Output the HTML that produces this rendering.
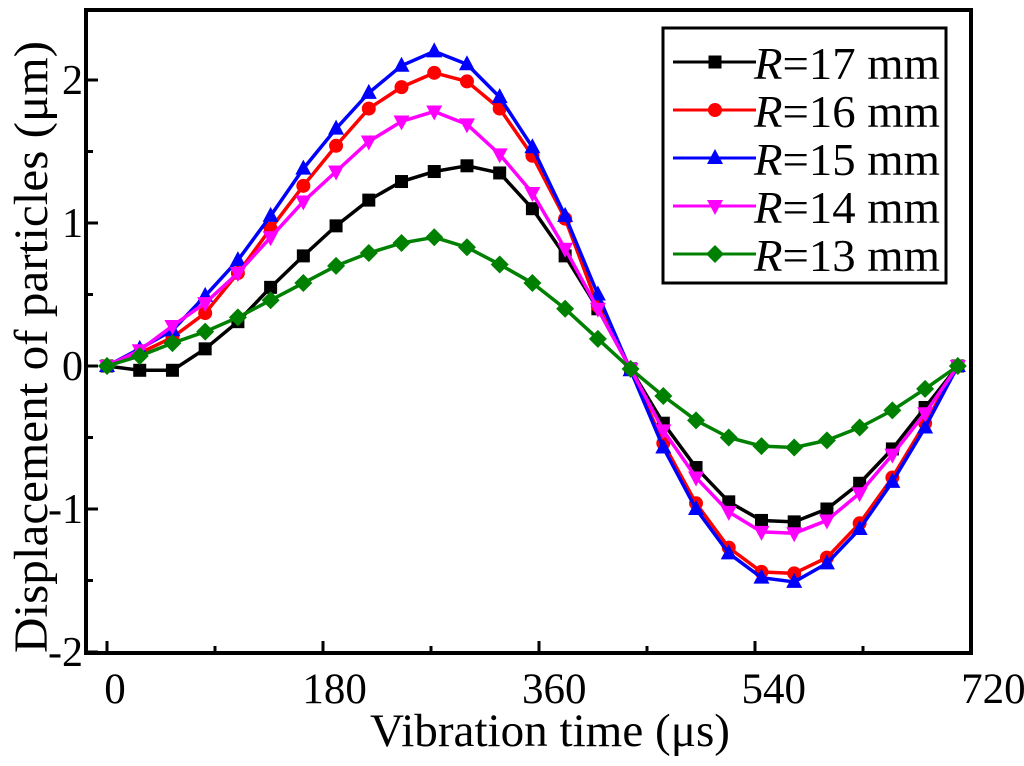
<!DOCTYPE html>
<html><head><meta charset="utf-8"><style>
html,body{margin:0;padding:0;background:#fff;}
svg text{font-family:"Liberation Serif",serif;fill:#000;}
</style></head><body>
<svg id="chart" width="1024" height="761" viewBox="0 0 1024 761" xmlns="http://www.w3.org/2000/svg">
<g id="axes"></g>
<g id="series"></g>
<g id="legend"></g>
<text x="550" y="746" font-size="47" text-anchor="middle" textLength="360" lengthAdjust="spacingAndGlyphs">Vibration time (μs)</text>
<text transform="translate(47,347) rotate(-90)" font-size="48" text-anchor="middle" textLength="612" lengthAdjust="spacingAndGlyphs">Displacement of particles (μm)</text>
</svg>
<script>
const step = 27.27;
const xTicks = [0,180,360,540,720];
const xMinor = [90,270,450,630];
const yTicks = [-2,-1,0,1,2];
const yMinor = [-1.5,-0.5,0.5,1.5];
const seriesNames = ["R=17 mm","R=16 mm","R=15 mm","R=14 mm","R=13 mm"];
const r17 = [0,-0.03,-0.03,0.12,0.31,0.55,0.77,0.98,1.16,1.29,1.36,1.40,1.35,1.10,0.77,0.40,-0.02,-0.40,-0.71,-0.95,-1.08,-1.09,-1.00,-0.82,-0.58,-0.29,0];
const r16 = [0,0.09,0.20,0.37,0.65,0.96,1.26,1.54,1.80,1.95,2.05,1.99,1.80,1.47,1.03,0.42,-0.02,-0.54,-0.96,-1.27,-1.44,-1.45,-1.34,-1.10,-0.78,-0.40,0];
const r15 = [0,0.12,0.25,0.49,0.74,1.05,1.38,1.66,1.91,2.10,2.20,2.11,1.88,1.53,1.05,0.50,-0.03,-0.57,-1.00,-1.31,-1.48,-1.51,-1.38,-1.14,-0.81,-0.43,0];
const r14 = [0,0.11,0.28,0.44,0.65,0.90,1.15,1.36,1.57,1.71,1.78,1.69,1.48,1.21,0.82,0.40,-0.02,-0.45,-0.78,-1.02,-1.16,-1.17,-1.08,-0.89,-0.62,-0.33,0];
const r13 = [0,0.07,0.16,0.24,0.34,0.46,0.58,0.70,0.79,0.86,0.90,0.83,0.71,0.58,0.40,0.19,-0.02,-0.21,-0.38,-0.50,-0.56,-0.57,-0.52,-0.43,-0.31,-0.16,0];

const NS="http://www.w3.org/2000/svg";
const L=86,R=971,T=10,B=653;
function X(v){return 107+(v)*1.2;}
function Y(v){return 366-v*143;}
function mk(tag,attrs,parent){const e=document.createElementNS(NS,tag);for(const k in attrs)e.setAttribute(k,attrs[k]);parent.appendChild(e);return e;}
const axes=document.getElementById('axes');
let fr=mk('rect',{x:L,y:T,width:R-L,height:B-T,fill:'none',stroke:'#000','stroke-width':4},axes);


xTicks.forEach(v=>{
  let t=mk('line',{x1:X(v),x2:X(v),y1:B,y2:B-12,stroke:'#000','stroke-width':3},axes);
  
  
  let lb=mk('text',{x:X(v)+8+v*0.02,y:B+50,'font-size':43,'text-anchor':'middle'},axes);
  lb.textContent=v;
  
  
});
xMinor.forEach(v=>{
  let t=mk('line',{x1:X(v),x2:X(v),y1:B,y2:B-7,stroke:'#000','stroke-width':3},axes);
  
  
});
yTicks.forEach(v=>{
  let t=mk('line',{x1:L,x2:L+12,y1:Y(v),y2:Y(v),stroke:'#000','stroke-width':3},axes);
  
  
  let lb=mk('text',{x:L-3,y:Y(v)+14,'font-size':42,'text-anchor':'end'},axes);
  lb.textContent=v;
  
  
});
yMinor.forEach(v=>{
  let t=mk('line',{x1:L,x2:L+7,y1:Y(v),y2:Y(v),stroke:'#000','stroke-width':3},axes);
  
  
});
function marker(shape,cx,cy,color,parent){
  let s=6.5,e;
  if(shape==='square')e=mk('rect',{x:cx-s,y:cy-s,width:2*s,height:2*s,fill:color},parent);
  else if(shape==='circle')e=mk('circle',{cx:cx,cy:cy,r:7,fill:color},parent);
  else if(shape==='up')e=mk('polygon',{points:`${cx},${cy-9} ${cx+8},${cy+6} ${cx-8},${cy+6}`,fill:color},parent);
  else if(shape==='down')e=mk('polygon',{points:`${cx},${cy+9} ${cx+8},${cy-6} ${cx-8},${cy-6}`,fill:color},parent);
  else e=mk('polygon',{points:`${cx},${cy-9} ${cx+9},${cy} ${cx},${cy+9} ${cx-9},${cy}`,fill:color},parent);
  return e;
}
const defs=[[r17,'#000','square','r17'],[r16,'#ff0000','circle','r16'],[r15,'#0000ff','up','r15'],[r14,'#ff00ff','down','r14'],[r13,'#008000','diamond','r13']];
const sg=document.getElementById('series');
defs.forEach(([d,c,sh,nm])=>{
  const g=mk('g',{},sg);
  
  
  const pts=d.map((v,i)=>X(i*step)+','+Y(v)).join(' ');
  const pl=mk('polyline',{points:pts,fill:'none',stroke:c,'stroke-width':3.5,'stroke-linejoin':'round'},g);
  
  
  d.forEach((v,i)=>{
    const m=marker(sh,X(i*step),Y(v),c,g);
    
    
  });
});
const lg=document.getElementById('legend');
let lb=mk('rect',{x:663,y:28,width:283,height:255,fill:'#fff',stroke:'#000','stroke-width':3},lg);


defs.forEach(([d,c,sh,nm],i)=>{
  const cy=62+i*48;
  const g=mk('g',{},lg);
  
  
  mk('line',{x1:673,x2:756,y1:cy,y2:cy,stroke:c,'stroke-width':3},g);
  marker(sh,715,cy,c,g);
  const t=mk('text',{x:754,y:cy+17,'font-size':46,textLength:186,lengthAdjust:'spacingAndGlyphs'},g);
  const parts=seriesNames[i].split('=');
  const ts=mk('tspan',{'font-style':'italic'},t);ts.textContent=parts[0];
  const ts2=mk('tspan',{},t);ts2.textContent='='+parts[1];
});
</script>
</body></html>
